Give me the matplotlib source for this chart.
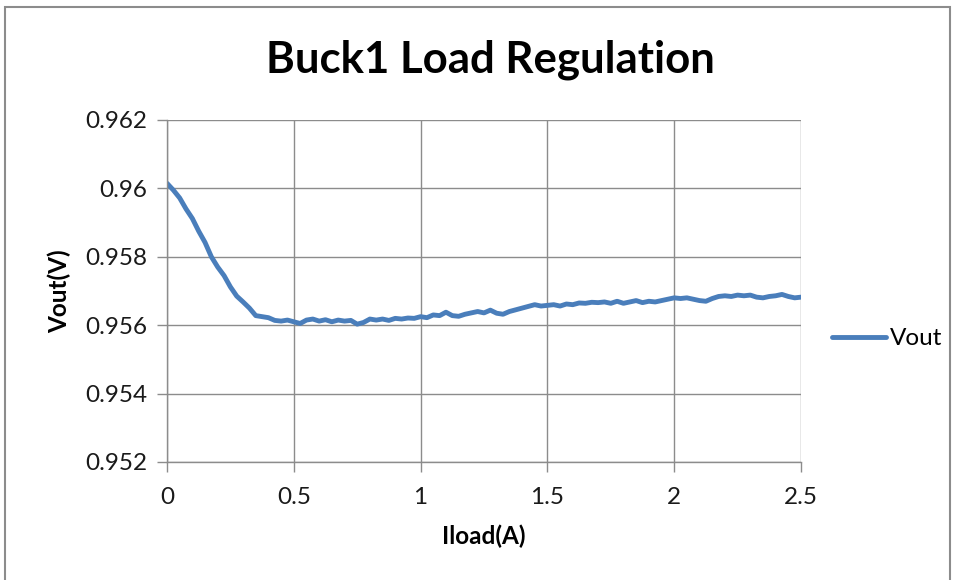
import matplotlib.pyplot as plt
from matplotlib.patches import Rectangle

# load current (A)
iload = [0.000, 0.025, 0.050, 0.075, 0.100, 0.125, 0.150, 0.175, 0.200, 0.225,
         0.250, 0.275, 0.300, 0.325, 0.350, 0.375, 0.400, 0.425, 0.450, 0.475,
         0.500, 0.525, 0.550, 0.575, 0.600, 0.625, 0.650, 0.675, 0.700, 0.725,
         0.750, 0.775, 0.800, 0.825, 0.850, 0.875, 0.900, 0.925, 0.950, 0.975,
         1.000, 1.025, 1.050, 1.075, 1.100, 1.125, 1.150, 1.175, 1.200, 1.225,
         1.250, 1.275, 1.300, 1.325, 1.350, 1.375, 1.400, 1.425, 1.450, 1.475,
         1.500, 1.525, 1.550, 1.575, 1.600, 1.625, 1.650, 1.675, 1.700, 1.725,
         1.750, 1.775, 1.800, 1.825, 1.850, 1.875, 1.900, 1.925, 1.950, 1.975,
         2.000, 2.025, 2.050, 2.075, 2.100, 2.125, 2.150, 2.175, 2.200, 2.225,
         2.250, 2.275, 2.300, 2.325, 2.350, 2.375, 2.400, 2.425, 2.450, 2.475,
         2.500]

# output voltage (V)
vout = [0.96015, 0.95995, 0.95972, 0.95940, 0.95912, 0.95875, 0.95842, 0.95800, 0.95770, 0.95745,
        0.95712, 0.95685, 0.95668, 0.95650, 0.95628, 0.95625, 0.95622, 0.95614, 0.95612, 0.95615,
        0.95610, 0.95605, 0.95615, 0.95618, 0.95612, 0.95616, 0.95610, 0.95615, 0.95612, 0.95614,
        0.95603, 0.95608, 0.95618, 0.95615, 0.95618, 0.95614, 0.95620, 0.95618, 0.95621, 0.95620,
        0.95625, 0.95622, 0.95630, 0.95628, 0.95638, 0.95628, 0.95626, 0.95632, 0.95636, 0.95640,
        0.95636, 0.95644, 0.95635, 0.95632, 0.95640, 0.95645, 0.95650, 0.95655, 0.95660, 0.95656,
        0.95658, 0.95660, 0.95656, 0.95662, 0.95660, 0.95665, 0.95664, 0.95667, 0.95666, 0.95668,
        0.95664, 0.95670, 0.95664, 0.95668, 0.95672, 0.95666, 0.95670, 0.95668, 0.95672, 0.95676,
        0.95680, 0.95678, 0.95680, 0.95676, 0.95672, 0.95670, 0.95678, 0.95684, 0.95686, 0.95684,
        0.95688, 0.95686, 0.95688, 0.95682, 0.95680, 0.95684, 0.95686, 0.95690, 0.95684, 0.95680,
        0.95682]

xticks = [0, 0.5, 1, 1.5, 2, 2.5]
xticklabels = ["0", "0.5", "1", "1.5", "2", "2.5"]
yticks = [0.952, 0.954, 0.956, 0.958, 0.96, 0.962]
yticklabels = ["0.952", "0.954", "0.956", "0.958", "0.96", "0.962"]

plt.rcParams['font.family'] = ['Lato', 'DejaVu Sans']

fig = plt.figure(figsize=(9.58, 5.8), dpi=100)
ax = fig.add_axes([167/958, 1 - 462/580, 634/958, 342/580])

ax.plot(iload, vout, color='#4a7ebb', lw=3.5, label='Vout', solid_capstyle='round')

ax.set_xlim(0, 2.5)
ax.set_ylim(0.952, 0.962)
ax.set_xticks(xticks)
ax.set_xticklabels(xticklabels)
ax.set_yticks(yticks)
ax.set_yticklabels(yticklabels)
ax.grid(True, color='#8c8c8c', lw=1.0)
ax.set_axisbelow(True)
for s in ['top', 'right']:
    ax.spines[s].set_visible(False)
for s in ['left', 'bottom']:
    ax.spines[s].set_color('#8c8c8c')
    ax.spines[s].set_linewidth(1.0)
ax.tick_params(axis='both', colors='#8c8c8c', labelcolor='#1a1a1a',
               labelsize=17.5, length=7, width=1.0, direction='out')
ax.tick_params(axis='x', pad=11)
ax.tick_params(axis='y', pad=7)

ax.set_xlabel('Iload(A)', fontsize=17.5, fontweight='bold', labelpad=12)
ax.set_ylabel('Vout(V)', fontsize=17.5, fontweight='bold', labelpad=10)
fig.text(490/958, 1 - 60/580, 'Buck1 Load Regulation', fontsize=31.5, fontweight='bold',
         ha='center', va='center')

ax.legend(loc='center left', bbox_to_anchor=(1.015, 0.36), frameon=False,
          fontsize=17.5, handlelength=2.2, handletextpad=0.15)

# outer chart frame
fig.patches.append(Rectangle((5/958, -0.05), 945/958, 1.05 - 7/580, transform=fig.transFigure,
                             fill=False, edgecolor='#8c8c8c', lw=1.5))

fig.savefig('out.png', dpi=100)
